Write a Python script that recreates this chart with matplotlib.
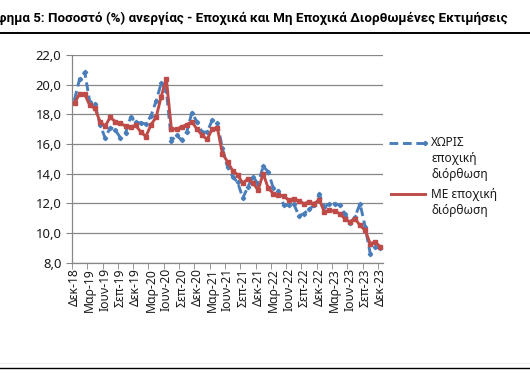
import matplotlib

matplotlib.use("Agg")
import matplotlib.pyplot as plt
from matplotlib.lines import Line2D

plt.rcParams["font.family"] = ["Noto Sans", "DejaVu Sans"]

# monthly unemployment rate, Dec-18 .. Dec-23
nsa = [19.0, 20.4, 20.85, 18.8, 18.7, 17.3, 16.4, 17.1, 16.95, 16.4, 16.75, 17.8, 17.5,
       17.4, 17.35, 17.9, 18.9, 20.1, 19.6, 16.2, 16.6, 16.25, 16.8, 18.1, 17.5, 16.8,
       16.8, 17.6, 17.4, 15.7, 14.45, 13.8, 13.4, 12.35, 13.1, 13.8, 13.3, 14.5, 14.1,
       13.0, 12.85, 11.9, 11.85, 11.95, 11.15, 11.3, 11.6, 11.85, 12.6, 11.75, 11.97,
       11.97, 11.86, 11.3, 10.65, 11.07, 11.97, 10.4, 8.6, 9.05, 8.95]
sa = [18.75, 19.4, 19.35, 18.6, 18.4, 17.5, 17.2, 17.8, 17.5, 17.4, 17.2, 17.15, 17.25,
      16.8, 16.5, 17.3, 17.8, 19.2, 20.4, 17.0, 17.0, 17.15, 17.3, 17.5, 17.0, 16.6,
      16.3, 17.0, 17.1, 15.35, 14.8, 14.2, 13.9, 13.35, 13.65, 13.35, 12.9, 14.0, 13.0,
      12.65, 12.55, 12.5, 12.2, 12.3, 12.15, 11.97, 12.08, 11.97, 12.24, 11.4, 11.52,
      11.47, 11.3, 10.96, 10.73, 10.96, 10.5, 10.17, 9.27, 9.38, 9.04]
tick_labels = ["Δεκ-18", "Μαρ-19", "Ιουν-19", "Σεπ-19", "Δεκ-19", "Μαρ-20", "Ιουν-20",
               "Σεπ-20", "Δεκ-20", "Μαρ-21", "Ιουν-21", "Σεπ-21", "Δεκ-21", "Μαρ-22",
               "Ιουν-22", "Σεπ-22", "Δεκ-22", "Μαρ-23", "Ιουν-23", "Σεπ-23", "Δεκ-23"]
yticks = [8, 10, 12, 14, 16, 18, 20, 22]

blue = "#4A7EBB"
red = "#BE4B48"
grey = "#878787"
txt = "#1a1a1a"

fig = plt.figure(figsize=(5.3, 3.87), dpi=100)
ax = fig.add_axes([72 / 530, 1 - 262.5 / 387, 311 / 530, 207.5 / 387])

x = list(range(len(sa)))
ax.plot(x, nsa, color=blue, lw=2.1, ls=(0, (3, 1.6)), marker="D", ms=2.2, zorder=3)
ax.plot(x, sa, color=red, lw=2.1, marker="s", ms=2.2, zorder=4)

ax.set_xlim(-0.5, len(sa) - 0.5)
ax.set_ylim(8, 22)
ax.set_yticks(yticks)
ax.set_yticklabels([f"{v:.1f}".replace(".", ",") for v in yticks], fontsize=9.4,
                   color=txt)
ax.set_xticks(range(0, len(sa), 3))
ax.set_xticklabels(tick_labels, rotation=90, fontsize=8.8, color=txt)
ax.set_xticks([i - 0.5 for i in range(0, len(sa) + 1, 3)], minor=True)
ax.tick_params(axis="x", which="major", length=0, pad=4)
ax.tick_params(axis="x", which="minor", length=4, color=grey)
ax.tick_params(axis="y", length=4.5, color=grey, pad=3)

ax.grid(axis="y", color=grey, lw=0.9)
ax.set_axisbelow(True)
for side in ["top", "right"]:
    ax.spines[side].set_visible(False)
for side in ["left", "bottom"]:
    ax.spines[side].set_color(grey)
    ax.spines[side].set_linewidth(0.9)


# legend, drawn by hand to keep Excel's layout
def fx(px):
    return px / 530


def fy(py):
    return 1 - py / 387


fig.add_artist(Line2D([fx(389), fx(425)], [fy(143), fy(143)], color=blue, lw=2.1,
                      ls=(0, (3, 1.6)), marker="D", ms=2.2, markevery=[1]))
for i, line in enumerate(["ΧΩΡΙΣ", "εποχική", "διόρθωση"]):
    fig.text(fx(431), fy(143 + 15.8 * i), line, fontsize=8.6, va="center", ha="left",
             color=txt)
fig.add_artist(Line2D([fx(391), fx(425)], [fy(194), fy(194)], color=red, lw=2.1))
for i, line in enumerate(["ΜΕ εποχική", "διόρθωση"]):
    fig.text(fx(431), fy(194 + 16.5 * i), line, fontsize=8.6, va="center", ha="left",
             color=txt)

fig.text(fx(508), fy(18), "Γράφημα 5: Ποσοστό (%) ανεργίας - Εποχικά και Μη Εποχικά "
         "Διορθωμένες Εκτιμήσεις", fontsize=9.6, fontweight="bold", ha="right",
         va="center", family=["Roboto", "DejaVu Sans"])
fig.add_artist(Line2D([0, 1], [fy(33), fy(33)], color="black", lw=1.4))
fig.add_artist(Line2D([0, 1], [fy(363), fy(363)], color="#eeeeee", lw=0.8))
fig.add_artist(Line2D([0, 1], [fy(367.5), fy(367.5)], color="black", lw=1.0))

fig.savefig("out.png", dpi=100)
